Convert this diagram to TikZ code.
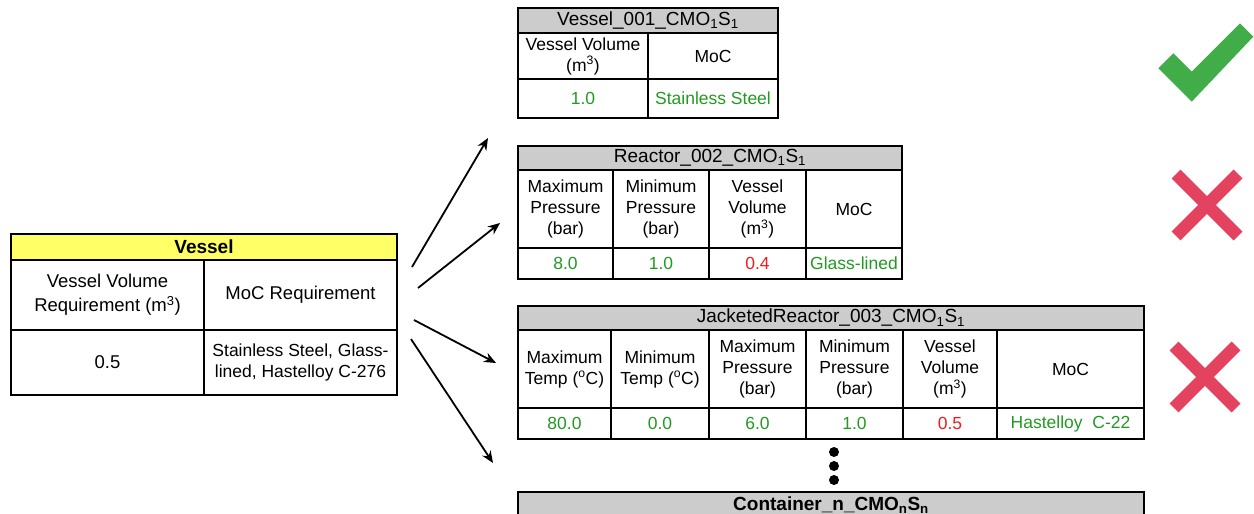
\documentclass[tikz,border=0pt]{standalone}
\usepackage{fontspec}
\setmainfont{Liberation Sans}
\usetikzlibrary{arrows.meta,calc}
\definecolor{headgray}{HTML}{CCCCCC}
\definecolor{headyellow}{HTML}{FFFF66}
\definecolor{okgreen}{HTML}{229A22}
\definecolor{badred}{HTML}{EE1C1C}
\definecolor{tickgreen}{HTML}{41AD49}
\definecolor{crossred}{HTML}{E3435F}
\newcommand{\tabfont}{\fontsize{17.5}{21}\selectfont}
\newcommand{\bigtabfont}{\fontsize{18.5}{24}\selectfont}
\newcommand{\headfont}{\fontsize{19}{22}\selectfont}
\tikzset{
  cell/.style={draw=black, line width=2pt, align=center, inner sep=0pt,
               anchor=north west, font=\tabfont},
  hdr/.style={cell, fill=headgray, font=\headfont},
  good/.style={text=okgreen},
  bad/.style={text=badred},
  link/.style={-{Stealth[length=12pt,width=10pt]}, line width=1.8pt},
  dot/.style={circle, fill=black, inner sep=0pt, minimum size=10pt},
}
\begin{document}
\begin{tikzpicture}[x=1pt,y=-1pt]
\useasboundingbox (0,0) rectangle (1254,514);
\clip (0,0) rectangle (1254,514);

% ---- requirement table ----
\node[cell, fill=headyellow, minimum width=386pt, minimum height=26pt, font=\headfont\bfseries] (vh) at (10,233) {Vessel};
\node[cell, minimum width=193pt, minimum height=70pt, font=\bigtabfont] (va) at (10,259) {Vessel Volume\\Requirement (m\textsuperscript{3})};
\node[cell, minimum width=193pt, minimum height=70pt, font=\bigtabfont] (vb) at (203,259) {MoC Requirement};
\node[cell, minimum width=193pt, minimum height=65pt, font=\bigtabfont] (vc) at (10,329) {0.5};
\node[cell, minimum width=193pt, minimum height=65pt] (vd) at (203,329) {Stainless Steel, Glass-\\lined, Hastelloy C-276};

% ---- Vessel_001 ----
\node[hdr, minimum width=260pt, minimum height=25pt] (ah) at (517,7) {Vessel\_001\_CMO\textsubscript{1}S\textsubscript{1}};
\node[cell, minimum width=130pt, minimum height=46pt] (a1) at (517,32) {Vessel Volume\\(m\textsuperscript{3})};
\node[cell, minimum width=130pt, minimum height=46pt] (a2) at (647,32) {MoC};
\node[cell, good, minimum width=130pt, minimum height=39pt] (a3) at (517,78) {1.0};
\node[cell, good, minimum width=130pt, minimum height=39pt] (a4) at (647,78) {Stainless Steel};

% ---- Reactor_002 ----
\node[hdr, minimum width=384pt, minimum height=24pt] (bh) at (517,145) {Reactor\_002\_CMO\textsubscript{1}S\textsubscript{1}};
\node[cell, minimum width=95pt, minimum height=78pt] (b1) at (517,169) {Maximum\\Pressure\\(bar)};
\node[cell, minimum width=96pt, minimum height=78pt] (b2) at (612,169) {Minimum\\Pressure\\(bar)};
\node[cell, minimum width=97pt, minimum height=78pt] (b3) at (708,169) {Vessel\\Volume\\(m\textsuperscript{3})};
\node[cell, minimum width=96pt, minimum height=78pt] (b4) at (805,169) {MoC};
\node[cell, good, minimum width=95pt, minimum height=31pt] (b5) at (517,247) {8.0};
\node[cell, good, minimum width=96pt, minimum height=31pt] (b6) at (612,247) {1.0};
\node[cell, bad, minimum width=97pt, minimum height=31pt] (b7) at (708,247) {0.4};
\node[cell, good, minimum width=96pt, minimum height=31pt] (b8) at (805,247) {Glass-lined};

% ---- JacketedReactor_003 ----
\node[hdr, minimum width=626pt, minimum height=24pt] (ch) at (517,305) {JacketedReactor\_003\_CMO\textsubscript{1}S\textsubscript{1}};
\node[cell, minimum width=93pt, minimum height=78pt] (c1) at (517,329) {Maximum\\Temp (\textsuperscript{o}C)};
\node[cell, minimum width=98pt, minimum height=78pt] (c2) at (610,329) {Minimum\\Temp (\textsuperscript{o}C)};
\node[cell, minimum width=97pt, minimum height=78pt] (c3) at (708,329) {Maximum\\Pressure\\(bar)};
\node[cell, minimum width=97pt, minimum height=78pt] (c4) at (805,329) {Minimum\\Pressure\\(bar)};
\node[cell, minimum width=94pt, minimum height=78pt] (c5) at (902,329) {Vessel\\Volume\\(m\textsuperscript{3})};
\node[cell, minimum width=147pt, minimum height=78pt] (c6) at (996,329) {MoC};
\node[cell, good, minimum width=93pt, minimum height=31pt] (c7) at (517,407) {80.0};
\node[cell, good, minimum width=98pt, minimum height=31pt] (c8) at (610,407) {0.0};
\node[cell, good, minimum width=97pt, minimum height=31pt] (c9) at (708,407) {6.0};
\node[cell, good, minimum width=97pt, minimum height=31pt] (c10) at (805,407) {1.0};
\node[cell, bad, minimum width=94pt, minimum height=31pt] (c11) at (902,407) {0.5};
\node[cell, good, minimum width=147pt, minimum height=31pt] (c12) at (996,407) {Hastelloy\ \ C-22};

% ---- continuation dots and generic container ----
\node[dot] (d1) at (834,452) {};
\node[dot] (d2) at (834,466) {};
\node[dot] (d3) at (834,480) {};
\node[hdr, minimum width=626pt, minimum height=26pt, font=\headfont\bfseries] (nh) at (517,491) {\raisebox{1pt}{Container\_n\_CMO\textsubscript{n}S\textsubscript{n}}};

% ---- arrows from the requirement table to each candidate ----
\coordinate (s1) at ($(vh.north east)+(14,34)$);
\coordinate (s2) at ($(vh.north east)+(20,55)$);
\coordinate (s3) at ($(vh.north east)+(16,87)$);
\coordinate (s4) at ($(vh.north east)+(13,106)$);
\coordinate (e1) at ($(ah.north west)+(-29,131)$);
\coordinate (e2) at ($(bh.north west)+(-17,78)$);
\coordinate (e3) at ($(ch.north west)+(-21,58)$);
\coordinate (e4) at ($(ch.north west)+(-24,158)$);
\draw[link] (s1) -- (e1);
\draw[link] (s2) -- (e2);
\draw[link] (s3) -- (e3);
\draw[link] (s4) -- (e4);

% ---- verdict marks ----
\fill[tickgreen] (1158.3,68.3) -- (1173.3,53.3) -- (1191.7,71.7) -- (1240,23.3)
  -- (1253.3,36.7) -- (1191.7,101.7) -- cycle;
\begin{scope}[crossred, line width=12.5pt]
  \draw (1176,174) -- (1238,236);
  \draw (1238,174) -- (1176,236);
  \draw (1174,346) -- (1236,408);
  \draw (1236,346) -- (1174,408);
\end{scope}
\end{tikzpicture}
\end{document}
